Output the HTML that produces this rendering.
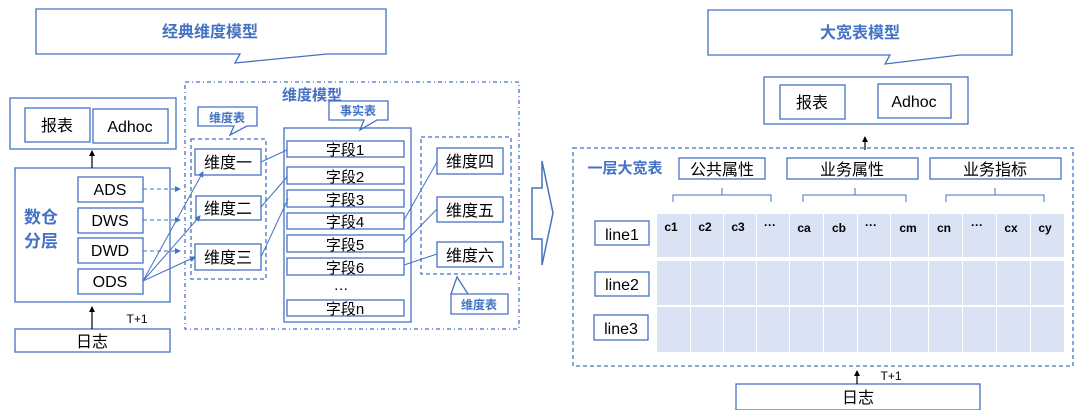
<!DOCTYPE html>
<html><head><meta charset="utf-8"><style>
html,body{margin:0;padding:0;background:#fff;width:1080px;height:410px;overflow:hidden}
svg text{font-family:"Liberation Sans","Noto Sans CJK SC",sans-serif}
</style></head><body>
<svg width="1080" height="410" viewBox="0 0 1080 410" xmlns="http://www.w3.org/2000/svg">
<defs>
<marker id="a" markerWidth="6" markerHeight="6" refX="5" refY="3" orient="auto" markerUnits="userSpaceOnUse"><path d="M0,0L6,3L0,6z" fill="#4472c4"/></marker>
<marker id="k" markerWidth="6" markerHeight="6" refX="5" refY="3" orient="auto" markerUnits="userSpaceOnUse"><path d="M0,0L6,3L0,6z" fill="#000"/></marker>
</defs>
<g fill="none" stroke="#4472c4" stroke-width="1.3">
<path d="M36,9H386V54H327L235,63L240,54H36Z" fill="#fff"/>
<rect x="185" y="82" width="334" height="247" stroke-dasharray="4,3,1,3"/>
<rect x="10" y="98" width="166" height="51"/>
<rect x="25" y="108" width="65" height="34"/>
<rect x="93" y="109" width="75" height="34"/>
<rect x="15" y="168" width="155" height="134"/>
<rect x="78" y="177" width="65" height="25"/>
<rect x="78" y="208" width="65" height="25"/>
<rect x="78" y="238" width="65" height="25"/>
<rect x="78" y="269" width="65" height="25"/>
<rect x="15" y="329" width="155" height="23"/>
<path d="M198,107H257V126H247L230,135L234,126H198Z"/>
<rect x="191" y="139" width="75" height="140" stroke-dasharray="4,3"/>
<rect x="195" y="149" width="66" height="26"/>
<rect x="196" y="196" width="65" height="24"/>
<rect x="195" y="244" width="66" height="26"/>
<path d="M329,101H388V120H377L360,130L364,120H329Z"/>
<rect x="284" y="128" width="127" height="194"/>
<rect x="287" y="141" width="117" height="16"/>
<rect x="287" y="167" width="117" height="17"/>
<rect x="287" y="190" width="117" height="17"/>
<rect x="287" y="213" width="117" height="16"/>
<rect x="287" y="235" width="117" height="17"/>
<rect x="287" y="258" width="117" height="17"/>
<rect x="287" y="300" width="117" height="16"/>
<rect x="421" y="137" width="90" height="137" stroke-dasharray="4,3"/>
<rect x="437" y="148" width="66" height="26"/>
<rect x="437" y="197" width="66" height="25"/>
<rect x="437" y="242" width="66" height="25"/>
<path d="M451,294H508V314H451V294H468L457,277Z"/>
<g stroke-width="1">
<line x1="143" y1="189" x2="180" y2="189" stroke-dasharray="4,3" marker-end="url(#a)"/>
<line x1="143" y1="220" x2="180" y2="220" stroke-dasharray="4,3" marker-end="url(#a)"/>
<line x1="143" y1="251" x2="180" y2="251" stroke-dasharray="4,3" marker-end="url(#a)"/>
<line x1="143" y1="281" x2="203" y2="172" marker-end="url(#a)"/>
<line x1="143" y1="281" x2="200" y2="216" marker-end="url(#a)"/>
<line x1="143" y1="281" x2="195" y2="257" marker-end="url(#a)"/>
<line x1="261" y1="162" x2="287" y2="150"/>
<line x1="261" y1="207" x2="287" y2="177"/>
<line x1="261" y1="257" x2="288" y2="199"/>
<line x1="404" y1="220" x2="437" y2="162"/>
<line x1="404" y1="243" x2="437" y2="209"/>
<line x1="404" y1="265" x2="437" y2="254"/>
</g>
<path d="M532,188H542V161L553,213L542,265V239H532Z" stroke-width="1.5"/>
<path d="M708,10H1012V55H960L885,64L890,55H708Z" fill="#fff"/>
<rect x="764" y="77" width="204" height="47"/>
<rect x="780" y="85" width="65" height="34"/>
<rect x="878" y="84" width="73" height="34"/>
<rect x="573" y="148" width="500" height="218" stroke-dasharray="4,3"/>
<rect x="679" y="158" width="86" height="21"/>
<rect x="787" y="158" width="131" height="21"/>
<rect x="930" y="158" width="131" height="21"/>
<path d="M673,202V195H771V202M722,195V188" stroke-width="1"/>
<path d="M803,202V195H906V202M855,195V188" stroke-width="1"/>
<path d="M946,202V195H1044V202M995,195V188" stroke-width="1"/>
<rect x="595" y="221" width="54" height="24"/>
<rect x="595" y="272" width="54" height="24"/>
<rect x="594" y="315" width="54" height="25"/>
<rect x="736" y="384" width="244" height="26"/>
</g>
<g fill="#dae3f3">
<rect x="657" y="214" width="33" height="43"/><rect x="691" y="214" width="32" height="43"/><rect x="724" y="214" width="32" height="43"/><rect x="757" y="214" width="32" height="43"/><rect x="790" y="214" width="33" height="43"/><rect x="824" y="214" width="33" height="43"/><rect x="858" y="214" width="32" height="43"/><rect x="891" y="214" width="37" height="43"/><rect x="929" y="214" width="33" height="43"/><rect x="963" y="214" width="33" height="43"/><rect x="997" y="214" width="33" height="43"/><rect x="1031" y="214" width="33" height="43"/>
<rect x="657" y="261" width="33" height="44"/><rect x="691" y="261" width="32" height="44"/><rect x="724" y="261" width="32" height="44"/><rect x="757" y="261" width="32" height="44"/><rect x="790" y="261" width="33" height="44"/><rect x="824" y="261" width="33" height="44"/><rect x="858" y="261" width="32" height="44"/><rect x="891" y="261" width="37" height="44"/><rect x="929" y="261" width="33" height="44"/><rect x="963" y="261" width="33" height="44"/><rect x="997" y="261" width="33" height="44"/><rect x="1031" y="261" width="33" height="44"/>
<rect x="657" y="307" width="33" height="45"/><rect x="691" y="307" width="32" height="45"/><rect x="724" y="307" width="32" height="45"/><rect x="757" y="307" width="32" height="45"/><rect x="790" y="307" width="33" height="45"/><rect x="824" y="307" width="33" height="45"/><rect x="858" y="307" width="32" height="45"/><rect x="891" y="307" width="37" height="45"/><rect x="929" y="307" width="33" height="45"/><rect x="963" y="307" width="33" height="45"/><rect x="997" y="307" width="33" height="45"/><rect x="1031" y="307" width="33" height="45"/>
</g>
<g stroke="#000" stroke-width="1.2">
<line x1="92" y1="168" x2="92" y2="151" marker-end="url(#k)"/>
<line x1="92" y1="329" x2="92" y2="307" marker-end="url(#k)"/>
<line x1="865" y1="150" x2="865" y2="137" marker-end="url(#k)"/>
<line x1="857" y1="384" x2="857" y2="371" marker-end="url(#k)"/>
</g>
<g fill="#4472c4" font-weight="bold" text-anchor="middle">
<text x="210" y="37" font-size="16">经典维度模型</text>
<text x="312" y="100" font-size="15">维度模型</text>
<text x="227" y="122" font-size="12">维度表</text>
<text x="358" y="115" font-size="12">事实表</text>
<text x="479" y="309" font-size="12">维度表</text>
<text x="41" y="223" font-size="17">数仓</text>
<text x="41" y="247" font-size="17">分层</text>
<text x="860" y="38" font-size="16">大宽表模型</text>
<text x="625" y="173" font-size="15">一层大宽表</text>
</g>
<g fill="#000" text-anchor="middle" font-size="16">
<text x="57" y="131">报表</text><text x="130" y="132">Adhoc</text>
<text x="110" y="195">ADS</text><text x="110" y="226">DWS</text><text x="110" y="256">DWD</text><text x="110" y="287">ODS</text>
<text x="92" y="347">日志</text>
<text x="137" y="323" font-size="12">T+1</text>
<text x="228" y="168">维度一</text><text x="228" y="214">维度二</text><text x="228" y="263">维度三</text>
<text x="470" y="167">维度四</text><text x="470" y="216">维度五</text><text x="470" y="261">维度六</text>
<g font-size="15"><text x="345" y="155">字段1</text><text x="345" y="182">字段2</text><text x="345" y="205">字段3</text><text x="345" y="227">字段4</text><text x="345" y="250">字段5</text><text x="345" y="273">字段6</text><text x="341" y="290">…</text><text x="345" y="314">字段n</text></g>
<text x="812" y="108">报表</text><text x="914" y="107">Adhoc</text>
<text x="722" y="175">公共属性</text><text x="852" y="175">业务属性</text><text x="995" y="175">业务指标</text>
<text x="622" y="240">line1</text><text x="622" y="290">line2</text><text x="621" y="334">line3</text>
<text x="858" y="403">日志</text>
<text x="891" y="380" font-size="12">T+1</text>
<g font-size="12" font-weight="bold"><text x="671" y="231">c1</text><text x="705" y="231">c2</text><text x="738" y="231">c3</text><text x="770" y="229">···</text><text x="804" y="232">ca</text><text x="839" y="232">cb</text><text x="871" y="229">···</text><text x="908" y="232">cm</text><text x="944" y="232">cn</text><text x="977" y="229">···</text><text x="1011" y="232">cx</text><text x="1045" y="232">cy</text></g>
</g>
</svg>
</body></html>
